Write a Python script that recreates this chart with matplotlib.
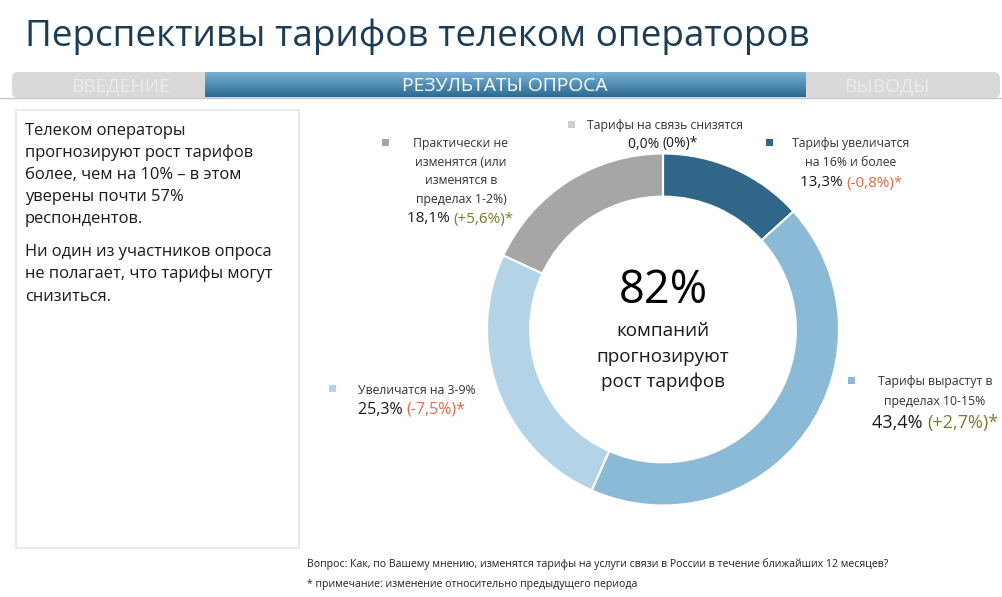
import matplotlib
matplotlib.use("Agg")
import matplotlib.pyplot as plt
import numpy as np
from matplotlib.patches import FancyBboxPatch, Rectangle
from matplotlib.colors import LinearSegmentedColormap

plt.rcParams['font.family'] = ['Open Sans', 'DejaVu Sans']

# ---- data ----
categories = ["Тарифы увеличатся\nна 16% и более",
              "Тарифы вырастут в\nпределах 10-15%",
              "Увеличатся на 3-9%",
              "Практически не\nизменятся (или\nизменятся в\nпределах 1-2%)",
              "Тарифы на связь снизятся"]
values = [13.3, 43.4, 25.3, 18.1, 0.0]
value_labels = ["13,3%", "43,4%", "25,3%", "18,1%", "0,0%"]
changes = ["(-0,8%)*", "(+2,7%)*", "(-7,5%)*", "(+5,6%)*", "(0%)*"]
colors = ["#306687", "#8bbad6", "#b3d3e6", "#a6a6a6", "#cfcfcf"]
center_big = "82%"
center_lines = ["компаний", "прогнозируют", "рост тарифов"]
para1 = ["Телеком операторы", "прогнозируют рост тарифов", "более, чем на 10% – в этом",
         "уверены почти 57%", "респондентов."]
para2 = ["Ни один из участников опроса", "не полагает, что тарифы могут", "снизиться."]

W, H = 1002, 597
fig = plt.figure(figsize=(W / 100, H / 100), dpi=100)
bg = fig.add_axes([0, 0, 1, 1])
bg.set_xlim(0, W)
bg.set_ylim(H, 0)
bg.axis("off")

# title
bg.text(25, 37, "Перспективы тарифов телеком операторов", fontsize=26.6,
        color="#1d3c58", va="center", ha="left")

# tab bar
bg.add_patch(FancyBboxPatch((12, 72), 988, 26, boxstyle="round,pad=0,rounding_size=6",
                            facecolor="#d9d9d9", edgecolor="none"))
grad = np.linspace(0, 1, 50).reshape(-1, 1)
cm = LinearSegmentedColormap.from_list("tab", ["#78b1d5", "#2d6a92"])
bg.imshow(grad, extent=[205, 806, 97, 72], aspect="auto", cmap=cm, zorder=2)
bg.set_xlim(0, W)
bg.set_ylim(H, 0)
bg.plot([0, W], [97.5, 97.5], color="#c8c8c8", lw=1, zorder=3)
bg.text(121, 86, "ВВЕДЕНИЕ", fontsize=13.9, color="#ececec", ha="center", va="center", zorder=4)
bg.text(505, 86, "РЕЗУЛЬТАТЫ ОПРОСА", fontsize=13.9, color="white", ha="center", va="center", zorder=4)
bg.text(887, 86, "ВЫВОДЫ", fontsize=13.9, color="#ececec", ha="center", va="center", zorder=4)

# left text box
bg.add_patch(Rectangle((16, 110), 283, 438, facecolor="white", edgecolor="#e3e6ea", lw=1.2))
for y, ln in zip([131, 153, 175, 197, 219], para1):
    bg.text(25, y, ln, fontsize=11.9, color="#1a1a1a", va="center", ha="left")
for y, ln in zip([252, 274, 297], para2):
    bg.text(25, y, ln, fontsize=11.9, color="#1a1a1a", va="center", ha="left")

# footer
bg.text(307, 564, "Вопрос: Как, по Вашему мнению, изменятся тарифы на услуги связи в России в течение ближайших 12 месяцев?",
        fontsize=7.55, color="#222222", va="center", ha="left")
bg.text(307, 585, "* примечание: изменение относительно предыдущего периода",
        fontsize=7.55, color="#222222", va="center", ha="left")

# donut
cx, cy, R = 663, 329.5, 176
pie_ax = fig.add_axes([(cx - R) / W, 1 - (cy + R) / H, 2 * R / W, 2 * R / H])
pie_ax.pie(values, colors=colors, startangle=90, counterclock=False, radius=1,
           wedgeprops=dict(width=0.245, edgecolor="white", linewidth=1.5))
pie_ax.set_xlim(-1, 1)
pie_ax.set_ylim(-1, 1)
pie_ax.axis("off")

bg.text(cx, 291, center_big, fontsize=32.5, color="black", ha="center", va="center", zorder=5)
for y, ln in zip([331, 357, 382], center_lines):
    bg.text(cx, y, ln, fontsize=13.6, color="#1a1a1a", ha="center", va="center", zorder=5)

# labels
lab_small = 8.8
pos_col = "#7b7b2a"
neg_col = "#e06a45"


def chg_color(s):
    if s.startswith("(-"):
        return neg_col
    if s.startswith("(+"):
        return pos_col
    return "#1a1a1a"


# (marker x, marker y, text center x, first line y, line step, value center x, value y, value size)
layout = [
    (770, 142, 851, 144, 19, 851, 183, 11.0),
    (852, 380, 935, 382, 19.5, 935, 423, 13.0),
    (333, 388, 417, 390, 19, 412, 410, 11.5),
    (386, 142, 461, 144, 18.5, 460, 219, 11.0),
    (572, 124, None, 125, 19, 663, 144, 10.0),
]

fig.canvas.draw()
rend = fig.canvas.get_renderer()
for i, (mx, my, tx, ty, step, vx, vy, vsize) in enumerate(layout):
    bg.add_patch(Rectangle((mx - 3.5, my - 3.5), 7, 7, facecolor=colors[i], edgecolor="none"))
    lines = categories[i].split("\n")
    if tx is None:
        bg.text(587, ty, lines[0], fontsize=lab_small, color="#333333", ha="left", va="center")
    else:
        for k, ln in enumerate(lines):
            bg.text(tx, ty + k * step, ln, fontsize=lab_small, color="#333333", ha="center", va="center")
    t1 = value_labels[i] + " "
    tmp = bg.text(0, 0, t1 + changes[i], fontsize=vsize)
    wtot = tmp.get_window_extent(rend).width
    tmp.remove()
    tv = bg.text(vx - wtot / 2, vy, t1, fontsize=vsize, color="#1a1a1a", ha="left", va="center")
    w1 = tv.get_window_extent(rend).width
    bg.text(vx - wtot / 2 + w1, vy, changes[i], fontsize=vsize, color=chg_color(changes[i]),
            ha="left", va="center")

fig.savefig("out.png", dpi=100)
